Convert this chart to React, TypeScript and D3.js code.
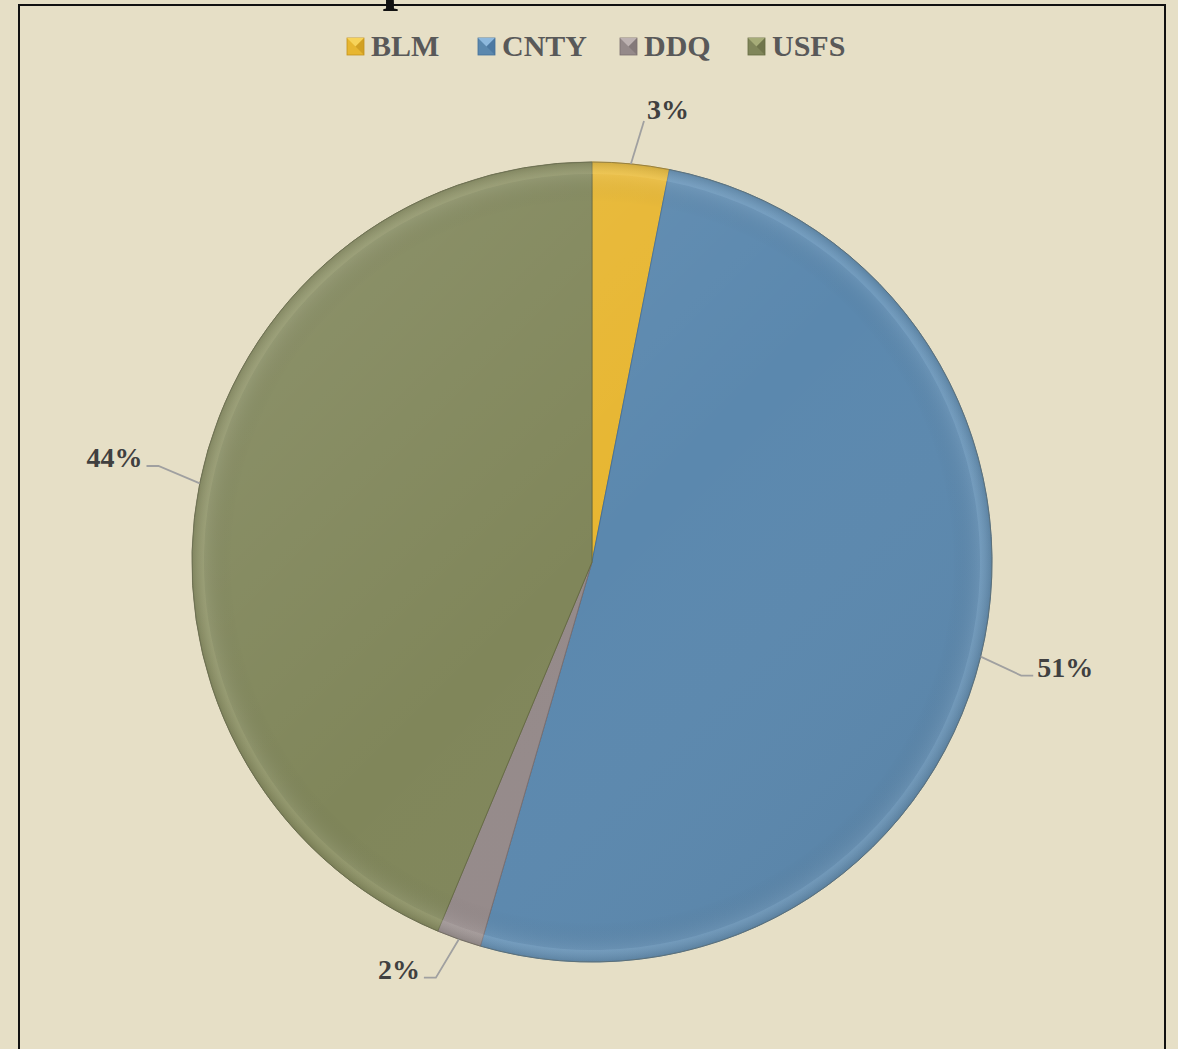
import React from "react";
import * as d3 from "d3";

const categories = ["BLM", "CNTY", "DDQ", "USFS"];
const values = [3.1, 51.4, 1.8, 43.7];
const labels = ["3%", "51%", "2%", "44%"];
const colors = ["#E7B631", "#5B88AE", "#958A8A", "#80865A"];
const lightColors = ["#F7D35A", "#8DB8DD", "#BDB2B1", "#A6AC78"];
const darkColors = ["#C4921C", "#44709A", "#7A6E6E", "#656B42"];

const W = 1178;
const H = 1049;
const cx = 592;
const cy = 562;
const R = 400;

export default function App() {
  const pie = d3.pie<number>().sort(null).value((d) => d);
  const arcs = pie(values);
  const arc = d3.arc<d3.PieArcDatum<number>>().innerRadius(0).outerRadius(R);
  const rimArc = d3.arc<d3.PieArcDatum<number>>().innerRadius(R - 12).outerRadius(R);

  const legendX = [347, 478, 620, 748];

  return (
    <svg
      width={W}
      height={H}
      style={{ position: "absolute", left: 0, top: 0, display: "block" }}
      fontFamily="'Liberation Serif', 'Times New Roman', serif"
    >
      <defs>
        <radialGradient id="rim" cx="50%" cy="50%" r="50%">
          <stop offset="0%" stopColor="#000" stopOpacity={0} />
          <stop offset="90%" stopColor="#000" stopOpacity={0} />
          <stop offset="97%" stopColor="#fff" stopOpacity={0.08} />
          <stop offset="100%" stopColor="#000" stopOpacity={0.12} />
        </radialGradient>
        <linearGradient id="shade" x1="0" y1="0" x2="1" y2="1">
          <stop offset="0%" stopColor="#fff" stopOpacity={0.12} />
          <stop offset="50%" stopColor="#fff" stopOpacity={0} />
          <stop offset="100%" stopColor="#000" stopOpacity={0.08} />
        </linearGradient>
      </defs>
      <rect x={0} y={0} width={W} height={H} fill="#E6DFC6" />
      <rect x={19} y={5} width={1146} height={H + 20} fill="none" stroke="#111" strokeWidth={2} />
      {/* cut-off title (only the descender is visible in the reference) */}
      <text x={398} y={-1} fontSize={56} fontWeight="bold" textAnchor="middle" fill="#111">
        p
      </text>

      {/* legend */}
      {categories.map((c, i) => {
        const x = legendX[i];
        const y = 38;
        const s = 17;
        return (
          <g key={c}>
            <rect x={x} y={y} width={s} height={s} fill={colors[i]} stroke={darkColors[i]} strokeWidth={0.8} />
            <polygon points={`${x},${y} ${x + s},${y} ${x + s / 2},${y + s / 2}`} fill={lightColors[i]} />
            <polygon points={`${x + s},${y} ${x + s / 2},${y + s / 2} ${x + s},${y + s}`} fill={darkColors[i]} opacity={0.6} />
            <text x={x + s + 7} y={56} fontSize={30} fontWeight="bold" fill="#595959">
              {c}
            </text>
          </g>
        );
      })}

      <g transform={`translate(${cx},${cy})`}>
        {arcs.map((a, i) => (
          <path key={categories[i]} d={arc(a) || ""} fill={colors[i]} stroke={darkColors[i]} strokeWidth={1} />
        ))}
        {arcs.map((a, i) => (
          <path key={"b" + i} d={rimArc(a) || ""} fill={lightColors[i]} opacity={0.25} />
        ))}
        <circle r={R} fill="url(#rim)" />
        <circle r={R} fill="url(#shade)" />
        <circle r={R} fill="none" stroke="#6d6d5a" strokeOpacity={0.5} strokeWidth={1} />

        {/* labels with leader lines */}
        {arcs.map((a, i) => {
          const mid = (a.startAngle + a.endAngle) / 2;
          const p0 = [Math.sin(mid) * R, -Math.cos(mid) * R];
          const ang = mid + 0.02;
          const sx = Math.sin(ang);
          const cyy = -Math.cos(ang);
          const er = R * 1.11;
          const p1 = [sx * er, cyy * er];
          const side = sx >= 0 ? 1 : -1;
          const top = Math.abs(sx) < 0.3 && cyy < 0;
          const p2 = top ? p1 : [p1[0] + side * 12, p1[1]];
          const tx = top ? p1[0] + 3 : p2[0] + side * 4;
          const ty = top ? p1[1] - 2 : p2[1] + 1;
          return (
            <g key={"l" + i}>
              <polyline
                points={`${p0[0]},${p0[1]} ${p1[0]},${p1[1]} ${p2[0]},${p2[1]}`}
                fill="none"
                stroke="#A0A0A0"
                strokeWidth={1.8}
              />
              <text
                x={tx}
                y={ty}
                fontSize={28}
                fontWeight="bold"
                fill="#404040"
                textAnchor={top ? "start" : side > 0 ? "start" : "end"}
              >
                {labels[i]}
              </text>
            </g>
          );
        })}
      </g>
    </svg>
  );
}
